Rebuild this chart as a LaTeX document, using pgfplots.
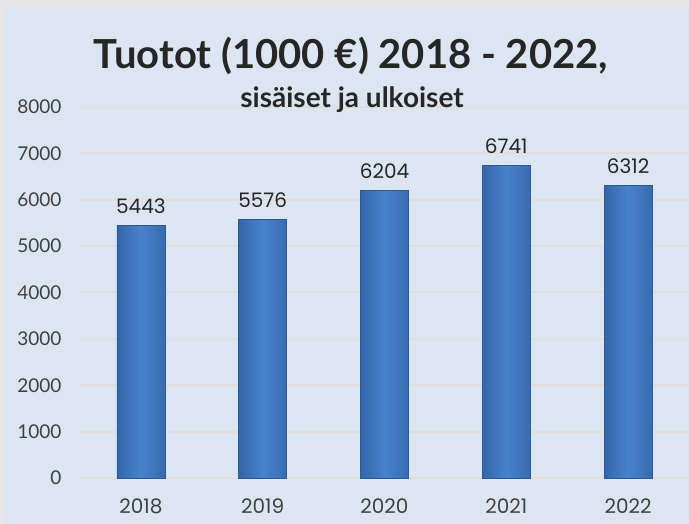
\documentclass[border=0pt]{standalone}
\usepackage{pgfplots}
\pgfplotsset{compat=1.18}
\usepackage{fontspec}
\setmainfont{Lato}
\newfontfamily\geo{Poppins}
\definecolor{bgc}{HTML}{DCE6F2}
\definecolor{edgec}{HTML}{E6E6E6}
\definecolor{gridc}{HTML}{E2DDD7}
\definecolor{barmid}{HTML}{4882CC}
\definecolor{baredge}{HTML}{3466A8}
\definecolor{bardark}{HTML}{2D5994}
\definecolor{tickc}{HTML}{404040}
\definecolor{titlec}{HTML}{262626}
\pgfplotsset{mybar/.style={draw=bardark, line width=0.8pt, left color=baredge, right color=baredge!80!barmid, middle color=barmid, bar shift=0pt}}
\begin{document}
\begin{tikzpicture}
\useasboundingbox (0pt,0pt) rectangle (689pt,524pt);
\fill[edgec] (0pt,0pt) rectangle (689pt,524pt);
\fill[bgc] (5pt,0pt) rectangle (689pt,516pt);
\begin{axis}[
  at={(80pt,46pt)}, anchor=south west,
  scale only axis, width=609pt, height=371pt,
  xmin=-0.5, xmax=4.5, ymin=0, ymax=8000,
  axis line style={draw=none},
  ybar, bar width=48pt,
  xtick={0,1,2,3,4},
  xticklabels={2018,2019,2020,2021,2022},
  ytick={0,1000,...,8000},
  ymajorgrids, major grid style={gridc, line width=2pt},
  tick style={draw=none},
  yticklabel style={font=\fontsize{19}{19}\selectfont, text=tickc, xshift=-15pt},
  xticklabel style={font=\geo\fontsize{20}{20}\selectfont, text=tickc, yshift=-13pt},
  /pgf/number format/assume math mode=true,
  scaled y ticks=false,
  yticklabel={\pgfmathprintnumber[1000 sep={}]{\tick}},
  nodes near coords,
  nodes near coords style={font=\geo\fontsize{20}{20}\selectfont, text=black!85, yshift=8pt},
  point meta=explicit symbolic,
  clip=false,
]
\addplot[mybar] coordinates {(0,5443)[5443]};
\addplot[mybar] coordinates {(1,5576)[5576]};
\addplot[mybar] coordinates {(2,6204)[6204]};
\addplot[mybar] coordinates {(3,6741)[6741]};
\addplot[mybar] coordinates {(4,6312)[6312]};
\end{axis}
\node[font=\bfseries\fontsize{40}{40}\selectfont, text=titlec] at (351pt,468pt) {Tuotot (1000 €) 2018 - 2022,};
\node[font=\bfseries\fontsize{28}{28}\selectfont, text=titlec] at (352pt,424pt) {sisäiset ja ulkoiset};
\end{tikzpicture}
\end{document}
